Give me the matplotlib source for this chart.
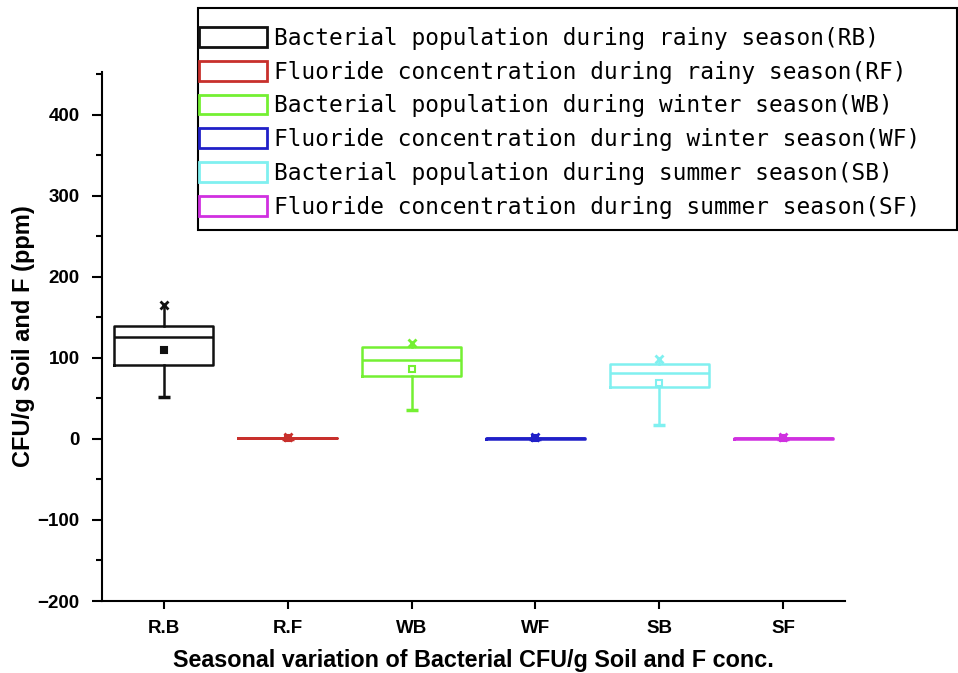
import numpy as np
import matplotlib.pyplot as plt
from matplotlib.patches import Patch, Rectangle

# categories and box statistics
labels = ['R.B', 'R.F', 'WB', 'WF', 'SB', 'SF']
whislo = [52, 0.3, 36, 0.2, 17, 0.2]
q1 = [91, 0.6, 78, 0.5, 64, 0.5]
med = [126, 1.0, 97, 0.9, 82, 0.9]
q3 = [140, 1.5, 113, 1.4, 93, 1.3]
whishi = [166, 2.5, 118, 2.2, 99, 2.0]
mean = [110, 1.4, 86, 1.2, 69, 1.1]

legend_labels = [
    'Bacterial population during rainy season(RB)',
    'Fluoride concentration during rainy season(RF)',
    'Bacterial population during winter season(WB)',
    'Fluoride concentration during winter season(WF)',
    'Bacterial population during summer season(SB)',
    'Fluoride concentration during summer season(SF)',
]
colors = ['#111111', '#c8302c', '#74f032', '#2020c8', '#80f0f0', '#d030e0']

fig = plt.figure(figsize=(9.58, 6.73), dpi=100)
ax = fig.add_axes([102/958, 1 - 601/673, (845-102)/958, (601-72)/673])

pos = np.arange(1, len(labels) + 1)
stats = []
for i in range(len(labels)):
    stats.append(dict(med=med[i], q1=q1[i], q3=q3[i], whislo=whislo[i],
                      whishi=whishi[i], mean=mean[i], fliers=[], label=labels[i]))

for i in range(len(labels)):
    c = colors[i]
    ax.bxp([stats[i]], positions=[pos[i]], widths=0.8, showcaps=False,
           showmeans=False, showfliers=False,
           boxprops=dict(color=c, linewidth=1.8),
           medianprops=dict(color=c, linewidth=1.8),
           whiskerprops=dict(color=c, linewidth=1.8))
    # mean, max, min markers
    fc = c if i in (0, 1, 3) else 'white'
    ax.plot(pos[i], mean[i], 's', ms=5, mfc=fc, mec=c, mew=1.5)
    ax.plot(pos[i], whishi[i], 'x', ms=6, mec=c, mew=2)
    ax.plot(pos[i], whislo[i], '_', ms=8, mec=c, mew=2.5)

ax.set_xlim(0.5, 6.5)
ax.set_ylim(-200, 453)
ax.set_xticks(pos)
ax.set_xticklabels(labels)
ax.set_yticks([-200, -100, 0, 100, 200, 300, 400])
ax.set_yticklabels(['\u2212200', '\u2212100', '0', '100', '200', '300', '400'])
ax.set_yticks(np.arange(-150, 451, 100), minor=True)

for s in ['top', 'right']:
    ax.spines[s].set_visible(False)
for s in ['left', 'bottom']:
    ax.spines[s].set_linewidth(1.5)

tickfont = dict(family='Liberation Sans', weight='bold', size=13.5)
for t in ax.get_xticklabels() + ax.get_yticklabels():
    t.set_fontproperties(tickfont)
ax.tick_params(axis='y', which='major', length=7, width=1.5, pad=9)
ax.tick_params(axis='y', which='minor', length=4, width=1.5)
ax.tick_params(axis='x', which='major', length=6, width=1.5, pad=8)

ax.set_ylabel('CFU/g Soil and F (ppm)', family='Liberation Sans', weight='bold',
              size=17, labelpad=2)
ax.set_xlabel('Seasonal variation of Bacterial CFU/g Soil and F conc.',
              family='Liberation Sans', weight='bold', size=16.8, labelpad=8)

handles = [Patch(facecolor='white', edgecolor=c, linewidth=2) for c in colors]
fig.legend(handles, legend_labels, loc='upper left',
           bbox_to_anchor=(199/958, 1 - 27/673), frameon=False,
           borderaxespad=0, borderpad=0, handlelength=3.0, handleheight=0.95,
           handletextpad=0.3, labelspacing=0.47,
           prop=dict(family='DejaVu Sans Mono', size=16.4))
fig.add_artist(Rectangle((198/958, 1 - 230/673), (957-198)/958, (230-8)/673,
                         transform=fig.transFigure, fill=False,
                         edgecolor='black', linewidth=1.5))

fig.savefig('out.png', dpi=100)
